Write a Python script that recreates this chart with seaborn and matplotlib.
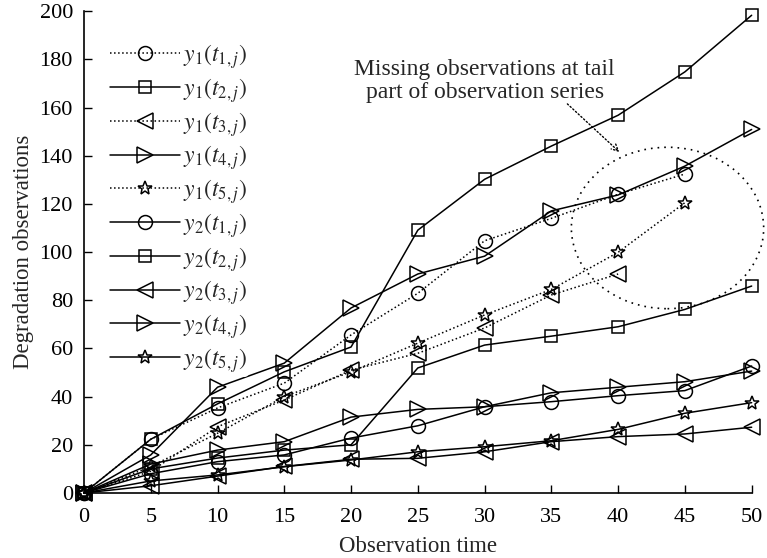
import numpy as np
import pandas as pd
import matplotlib
matplotlib.use("Agg")
import matplotlib.pyplot as plt
from matplotlib.patches import Ellipse
import seaborn as sns

sns.set_theme(style="ticks")
plt.rcParams["font.family"] = ["Liberation Serif", "DejaVu Serif"]
plt.rcParams["mathtext.fontset"] = "stix"

times = [0, 5, 10, 15, 20, 25, 30, 35, 40, 45, 50]

# first test stage (some units stop early)
y1_t1 = [0, 22.3, 35.3, 45.6, 65.6, 82.9, 104.7, 114.0, 124.0, 132.4]
y1_t2 = [0, 22.3, 37.0, 50.3, 60.6, 109.1, 130.2, 144.0, 156.8, 174.8, 198.3]
y1_t3 = [0, 9.0, 27.5, 38.6, 51.0, 58.0, 68.5, 82.2, 90.9]
y1_t4 = [0, 15.8, 43.9, 53.9, 76.8, 90.9, 98.3, 117.1, 123.7, 135.7, 150.9]
y1_t5 = [0, 11.0, 24.8, 40.0, 50.3, 62.2, 73.9, 84.5, 99.9, 120.5]

# second test stage
y2_t1 = [0, 8.0, 13.0, 15.8, 22.8, 27.9, 35.8, 37.9, 40.4, 42.5, 52.7]
y2_t2 = [0, 10.0, 14.5, 17.8, 20.0, 51.9, 61.4, 65.1, 69.0, 76.2, 85.9]
y2_t3 = [0, 3.0, 7.0, 11.0, 14.0, 14.4, 17.1, 21.3, 23.4, 24.5, 27.3]
y2_t4 = [0, 12.0, 17.8, 21.3, 31.5, 34.7, 35.8, 41.6, 43.9, 46.2, 50.6]
y2_t5 = [0, 5.0, 7.5, 10.9, 13.7, 17.1, 19.2, 21.7, 26.4, 33.1, 37.5]

series = [
    (r"$y_1(t_{1,j})$", y1_t1, "o", ":"),
    (r"$y_1(t_{2,j})$", y1_t2, "s", "-"),
    (r"$y_1(t_{3,j})$", y1_t3, "<", ":"),
    (r"$y_1(t_{4,j})$", y1_t4, ">", "-"),
    (r"$y_1(t_{5,j})$", y1_t5, "*", ":"),
    (r"$y_2(t_{1,j})$", y2_t1, "o", "-"),
    (r"$y_2(t_{2,j})$", y2_t2, "s", "-"),
    (r"$y_2(t_{3,j})$", y2_t3, "<", "-"),
    (r"$y_2(t_{4,j})$", y2_t4, ">", "-"),
    (r"$y_2(t_{5,j})$", y2_t5, "*", "-"),
]

fig = plt.figure(figsize=(7.67, 5.58), dpi=100)
ax = fig.add_axes([0.1095, 0.1165, 0.8705, 0.8635])

msize = {"o": 10, "s": 8, "<": 11, ">": 11, "*": 10}
for label, vals, mk, ls in series:
    df = pd.DataFrame({"time": times[:len(vals)], "value": vals})
    sns.lineplot(data=df, x="time", y="value", ax=ax, label=label,
                 color="black", linestyle=ls, linewidth=1.1,
                 marker=mk, markersize=msize[mk], markerfacecolor="none",
                 markeredgecolor="black", markeredgewidth=1.1,
                 clip_on=False, zorder=3)

# region of missing tail observations
ell = Ellipse((43.7, 110), width=14.4, height=67, fill=False,
              linestyle=(0, (1, 3)), linewidth=1.2, edgecolor="black",
              clip_on=False)
ax.add_patch(ell)
ax.text(30.0, 171.0, "Missing observations at tail\npart of observation series",
        ha="center", va="center", fontsize=17, linespacing=1.12)
ax.annotate("", xy=(40.1, 141.5), xytext=(36.2, 161.5),
            arrowprops=dict(arrowstyle="->", linestyle=":", linewidth=1.0,
                            color="black", shrinkA=0, shrinkB=0))

ax.set_xlim(0, 50)
ax.set_ylim(0, 200)
ax.set_xticks(range(0, 51, 5))
ax.set_yticks(range(0, 201, 20))
ax.set_xlabel("Observation time", fontsize=16.5, labelpad=6)
ax.set_ylabel("Degradation observations", fontsize=16.5, labelpad=4)
ax.tick_params(direction="in", length=6, width=1, labelsize=16, colors="black")
ax.tick_params(axis="x", pad=11)
ax.tick_params(axis="y", pad=8)
for side in ["top", "right"]:
    ax.spines[side].set_visible(False)
for side in ["left", "bottom"]:
    ax.spines[side].set_linewidth(1.2)
    ax.spines[side].set_color("black")

leg = ax.legend(loc="upper left", bbox_to_anchor=(0.017, 0.965), frameon=True,
                fontsize=17, handlelength=3.0, labelspacing=0.21,
                handletextpad=0.1, borderpad=0.1)
leg.get_frame().set_facecolor("white")
leg.get_frame().set_edgecolor("none")
leg.get_frame().set_alpha(1)

fig.savefig("out.png", dpi=100)
